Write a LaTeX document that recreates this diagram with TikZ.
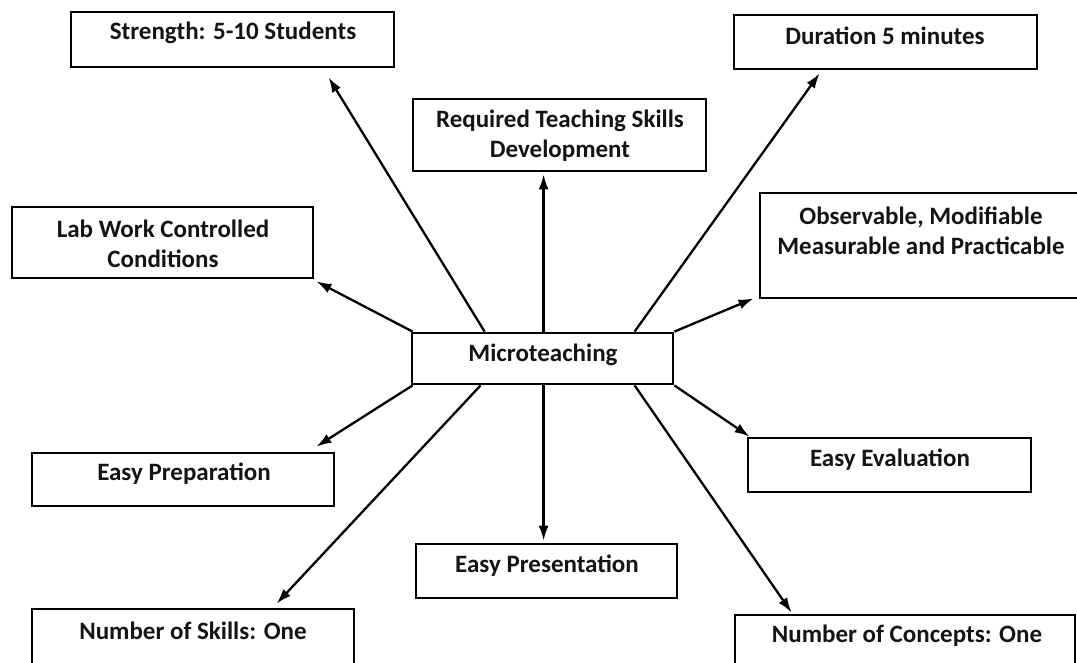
\documentclass[tikz,border=0pt]{standalone}
\usepackage{fontspec}
\setmainfont{Carlito}
\usetikzlibrary{arrows.meta}
\begin{document}
\begin{tikzpicture}[x=1pt,y=-1pt,
  box/.style={draw=black,line width=2.8pt,rectangle,inner sep=0pt},
  txt/.style={font=\bfseries\fontsize{25}{30}\selectfont,inner sep=0pt,align=center,text=black!92},
  arr/.style={line width=2.3pt,-{Latex[length=15pt,width=10pt]}}]
\useasboundingbox (0,0) rectangle (1077,663);
% boxes
\node[box,minimum width=323pt,minimum height=55pt] (s) at (232.5,39.5) {};
\node[box,minimum width=293pt,minimum height=72pt] (r) at (559.5,135) {};
\node[box,minimum width=303pt,minimum height=54pt] (d) at (885.5,42) {};
\node[box,minimum width=301pt,minimum height=71pt] (l) at (162.5,242.5) {};
\node[box,minimum width=324pt,minimum height=105pt] (o) at (922,245.5) {};
\node[box,minimum width=261pt,minimum height=51pt] (m) at (542.5,358.5) {};
\node[box,minimum width=302pt,minimum height=53pt] (p) at (183,479.5) {};
\node[box,minimum width=322pt,minimum height=55pt] (k) at (193,636.5) {};
\node[box,minimum width=261pt,minimum height=54pt] (e) at (546.5,571) {};
\node[box,minimum width=283pt,minimum height=54pt] (v) at (889.5,465) {};
\node[box,minimum width=340pt,minimum height=56pt] (c) at (905,643) {};
% texts
\node[txt] (st) at (233,33) {Strength: 5-10 Students};
\node[txt] (rt) at (560,136) {Required Teaching Skills\\Development};
\node[txt] (dt) at (885,36) {Duration 5 minutes};
\node[txt] (lt) at (163,244) {Lab Work Controlled\\Conditions};
\node[txt] (ot) at (921,231) {Observable, Modifiable\\Measurable and Practicable};
\node[txt] (mt) at (543,355) {Microteaching};
\node[txt] (pt) at (184,474) {Easy Preparation};
\node[txt] (kt) at (193,631) {Number of Skills: One};
\node[txt] (et) at (547,566) {Easy Presentation};
\node[txt] (vt) at (890,460) {Easy Evaluation};
\node[txt] (ct) at (907,636) {Number of Concepts: One};
% arrows
\draw[arr] ([xshift=74pt]m.north west) -- ([xshift=259pt,yshift=-9pt]s.south west);
\draw[arr] ([xshift=133pt]m.north west) -- ([xshift=132pt,yshift=-2pt]r.south west);
\draw[arr] ([xshift=224pt]m.north west) -- ([xshift=87pt,yshift=-3pt]d.south west);
\draw[arr] ([xshift=2pt]m.north west) -- ([xshift=2pt,yshift=-2pt]l.south east);
\draw[arr] (m.north east) -- ([xshift=-5pt,yshift=1pt]o.south west);
\draw[arr] ([xshift=2pt]m.south west) -- ([xshift=-19pt,yshift=5pt]p.north east);
\draw[arr] ([xshift=70pt]m.south west) -- ([xshift=246pt,yshift=4pt]k.north west);
\draw[arr] ([xshift=133pt]m.south west) -- ([xshift=129pt,yshift=2pt]e.north west);
\draw[arr] (m.south east) -- ([xshift=3pt]v.north west);
\draw[arr] ([xshift=224pt]m.south west) -- ([xshift=58pt,yshift=1pt]c.north west);
\end{tikzpicture}
\end{document}
